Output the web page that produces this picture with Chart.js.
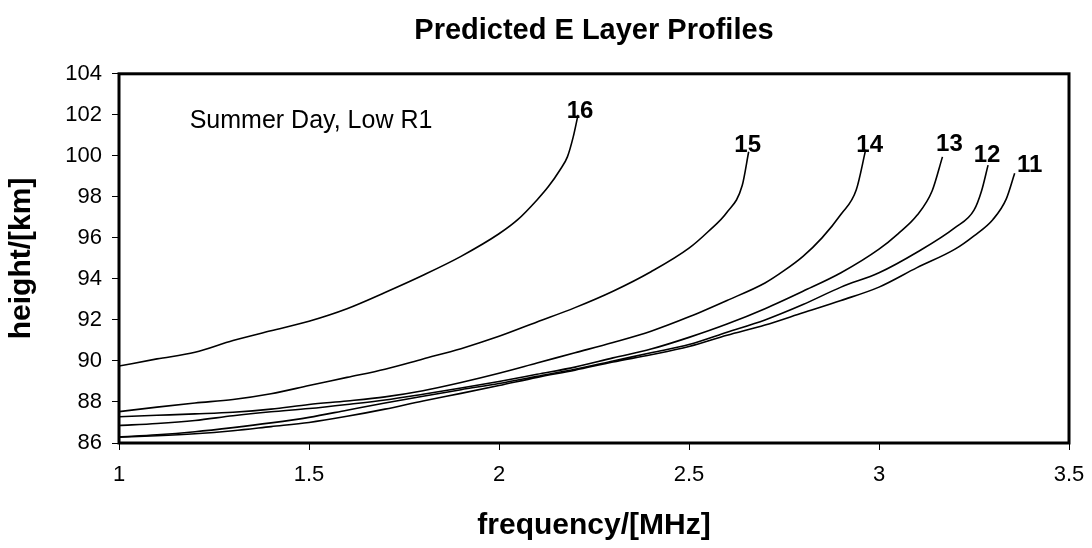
<!DOCTYPE html>
<html>
<head>
<meta charset="utf-8">
<script src="https://cdn.jsdelivr.net/npm/chart.js@4.4.0/dist/chart.umd.min.js"></script>
<style>
  html, body { margin: 0; padding: 0; background: #fff; }
</style>
</head>
<body>
<canvas id="myChart" width="1092" height="548"></canvas>
<script>
// E layer profiles, one curve per hour: frequency [MHz] vs height [km]
var hours = ["16", "15", "14", "13", "12", "11"];

var freq16 = [1.0, 1.1, 1.2, 1.3, 1.4, 1.5, 1.6, 1.7, 1.8, 1.9, 2.0, 2.05, 2.1, 2.13, 2.16, 2.18, 2.195, 2.208];
var height16 = [89.75, 90.1, 90.42, 91.0, 91.47, 91.94, 92.55, 93.34, 94.18, 95.1, 96.2, 96.9, 97.85, 98.5, 99.3, 99.95, 100.9, 102.0];

var freq15 = [1.0, 1.1, 1.2, 1.3, 1.4, 1.5, 1.6, 1.7, 1.8, 1.9, 2.0, 2.1, 2.2, 2.3, 2.4, 2.5, 2.55, 2.6, 2.64, 2.657];
var height15 = [87.53, 87.75, 87.95, 88.12, 88.4, 88.8, 89.2, 89.6, 90.1, 90.6, 91.2, 91.9, 92.6, 93.4, 94.35, 95.5, 96.3, 97.25, 98.55, 100.2];

var freq14 = [1.0, 1.1, 1.2, 1.3, 1.4, 1.5, 1.6, 1.7, 1.8, 1.9, 2.0, 2.1, 2.2, 2.3, 2.4, 2.5, 2.6, 2.7, 2.75, 2.8, 2.85, 2.9, 2.94, 2.965];
var height14 = [87.28, 87.35, 87.42, 87.5, 87.65, 87.88, 88.05, 88.25, 88.55, 88.95, 89.4, 89.9, 90.4, 90.9, 91.45, 92.15, 92.95, 93.8, 94.4, 95.1, 96.0, 97.15, 98.33, 100.3];

var freq13 = [1.0, 1.1, 1.2, 1.3, 1.4, 1.5, 1.6, 1.7, 1.8, 1.9, 2.0, 2.1, 2.2, 2.3, 2.4, 2.5, 2.6, 2.7, 2.8, 2.9, 3.0, 3.05, 3.1, 3.14, 3.167];
var height13 = [86.85, 86.95, 87.1, 87.33, 87.52, 87.68, 87.88, 88.1, 88.38, 88.68, 89.0, 89.35, 89.7, 90.15, 90.58, 91.15, 91.8, 92.55, 93.4, 94.3, 95.45, 96.2, 97.1, 98.3, 99.95];

var freq12 = [1.0, 1.1, 1.2, 1.3, 1.4, 1.5, 1.6, 1.7, 1.8, 1.9, 2.0, 2.1, 2.2, 2.3, 2.4, 2.5, 2.6, 2.7, 2.8, 2.9, 3.0, 3.1, 3.2, 3.25, 3.27, 3.287];
var height12 = [86.3, 86.4, 86.55, 86.75, 86.98, 87.25, 87.6, 87.95, 88.28, 88.6, 88.9, 89.25, 89.6, 90.0, 90.4, 90.8, 91.4, 92.0, 92.75, 93.6, 94.3, 95.3, 96.5, 97.35, 98.3, 99.55];

var freq11 = [1.0, 1.1, 1.2, 1.3, 1.4, 1.5, 1.6, 1.7, 1.8, 1.9, 2.0, 2.1, 2.2, 2.3, 2.4, 2.5, 2.6, 2.7, 2.8, 2.9, 3.0, 3.1, 3.2, 3.25, 3.3, 3.335, 3.357];
var height11 = [86.28, 86.35, 86.45, 86.6, 86.8, 87.0, 87.3, 87.65, 88.05, 88.42, 88.8, 89.2, 89.55, 89.95, 90.3, 90.7, 91.25, 91.75, 92.35, 92.95, 93.6, 94.55, 95.45, 96.1, 96.9, 97.9, 99.15];

var freqs = [freq16, freq15, freq14, freq13, freq12, freq11];
var heights = [height16, height15, height14, height13, height12, height11];

var xTicks = [1, 1.5, 2, 2.5, 3, 3.5];
var yTicks = [86, 88, 90, 92, 94, 96, 98, 100, 102, 104];

var noteText = "Summer Day, Low R1";
var noteAt = [1.186, 101.35];

// pixel nudges for the hour labels at the top of each curve
var labelDx = [2, -1, 4, 7, -1, 15];
var labelDy = [3, 0, 2, -6, -3, -1];

var FONT = '"Liberation Sans", Arial, sans-serif';
Chart.defaults.font.family = FONT;
Chart.defaults.color = '#000';

function toPoints(xs, ys) {
  var pts = [];
  for (var i = 0; i < xs.length; i++) pts.push({ x: xs[i], y: ys[i] });
  return pts;
}

var extras = {
  id: 'extras',
  afterDatasetsDraw: function(chart) {
    var ctx = chart.ctx, a = chart.chartArea;
    var xs = chart.scales.x, ys = chart.scales.y;
    ctx.save();
    ctx.strokeStyle = '#000';
    ctx.lineWidth = 3;
    ctx.strokeRect(a.left, a.top, a.right - a.left, a.bottom - a.top);

    ctx.fillStyle = '#000';
    ctx.font = 'bold 24px ' + FONT;
    ctx.textAlign = 'center';
    ctx.textBaseline = 'alphabetic';
    chart.data.datasets.forEach(function(ds, i) {
      var last = ds.data[ds.data.length - 1];
      ctx.fillText(ds.label,
        xs.getPixelForValue(last.x) + labelDx[i],
        ys.getPixelForValue(last.y) + labelDy[i]);
    });

    ctx.font = '25px ' + FONT;
    ctx.textAlign = 'left';
    ctx.fillText(noteText, xs.getPixelForValue(noteAt[0]), ys.getPixelForValue(noteAt[1]));
    ctx.restore();
  }
};

var ctx = document.getElementById("myChart");
var myChart = new Chart(ctx, {
  type: 'line',
  data: {
    datasets: hours.map(function(h, i) {
      return {
        label: h,
        data: toPoints(freqs[i], heights[i]),
        borderColor: '#000',
        borderWidth: 1.6,
        pointRadius: 0,
        fill: false,
        cubicInterpolationMode: 'monotone'
      };
    })
  },
  options: {
    responsive: false,
    animation: false,
    layout: { padding: { left: 0, right: 23, top: 0, bottom: 0 } },
    plugins: {
      legend: { display: false },
      tooltip: { enabled: false },
      title: {
        display: true,
        fullSize: false,
        text: 'Predicted E Layer Profiles',
        color: '#000',
        font: { size: 29, weight: 'bold' },
        padding: { top: 14, bottom: 25 }
      }
    },
    scales: {
      x: {
        type: 'linear',
        min: xTicks[0],
        max: xTicks[xTicks.length - 1],
        afterBuildTicks: function(s) { s.ticks = xTicks.map(function(v) { return { value: v }; }); },
        afterFit: function(s) { s.height = 105; s.paddingLeft = 0; s.paddingRight = 0; },
        ticks: {
          color: '#000', font: { size: 22 }, padding: 12, maxRotation: 0,
          callback: function(v) { return String(v); }
        },
        grid: { drawOnChartArea: false, tickLength: 7, color: '#000' },
        border: { display: false },
        title: {
          display: true,
          text: 'frequency/[MHz]',
          color: '#000',
          font: { size: 30, weight: 'bold' },
          padding: { top: 0, bottom: 4 }
        }
      },
      y: {
        type: 'linear',
        min: yTicks[0],
        max: yTicks[yTicks.length - 1],
        afterBuildTicks: function(s) { s.ticks = yTicks.map(function(v) { return { value: v }; }); },
        afterFit: function(s) { s.width = 119; },
        ticks: { color: '#000', font: { size: 22 }, padding: 10 },
        grid: { drawOnChartArea: false, tickLength: 7, color: '#000' },
        border: { display: false },
        title: {
          display: true,
          text: 'height/[km]',
          color: '#000',
          font: { size: 30, weight: 'bold' },
          padding: { top: 4, bottom: 0 }
        }
      }
    }
  },
  plugins: [extras]
});
</script>
</body>
</html>
